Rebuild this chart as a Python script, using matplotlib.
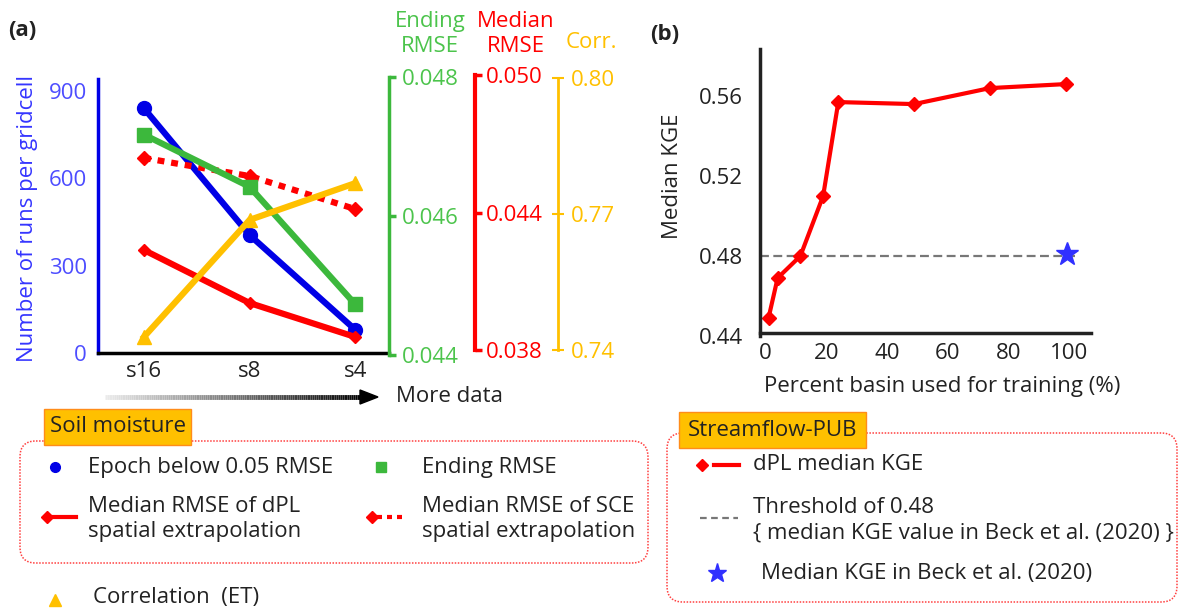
import numpy as np
import matplotlib
matplotlib.use("Agg")
import matplotlib.pyplot as plt
from matplotlib.collections import LineCollection
from matplotlib.patches import FancyBboxPatch, Rectangle, Polygon

plt.rcParams["font.family"] = ["Open Sans", "DejaVu Sans"]
plt.rcParams["font.size"] = 16

# panel (a): soil moisture vs training density
cats = ["s16", "s8", "s4"]
epoch_runs = [840, 405, 80]
ending_rmse = [0.04717, 0.04642, 0.04473]
median_rmse_dpl = [0.04236, 0.04005, 0.03857]
median_rmse_sce = [0.04638, 0.04559, 0.04415]
corr_et = [0.7429, 0.7687, 0.7768]

# panel (b): streamflow PUB
pct_basin = [1, 4, 11.5, 19, 24, 49, 74, 99]
kge_dpl = [0.449, 0.469, 0.480, 0.510, 0.557, 0.556, 0.564, 0.566]
beck_pct = 99.5
beck_kge = 0.481
threshold = 0.48

BLUE, BLUE_TXT = "#0000e6", "#4d4dff"
GREEN, GREEN_TXT = "#3cb83c", "#4cc44c"
RED = "#ff0000"
GOLD = "#ffc000"
INK = "#222222"

W, H = 1179, 608
fig = plt.figure(figsize=(W / 100, H / 100), dpi=100)


def fbox(x0, y0, x1, y1):
    # pixel box (top-left origin) -> figure fraction rect
    return [x0 / W, 1 - y1 / H, (x1 - x0) / W, (y1 - y0) / H]


def bare(a):
    a.patch.set_visible(False)
    for s in a.spines.values():
        s.set_visible(False)
    a.set_xticks([])


xs = np.arange(len(cats))
xl = (-0.436, 2.32)

# ---- (a) main axis: epochs
ax = fig.add_axes(fbox(98, 79, 389, 353))
ax.patch.set_visible(False)
ax.set_xlim(xl)
ax.set_ylim(0, 941)
ax.spines[["top", "right"]].set_visible(False)
ax.spines["left"].set_color(BLUE)
ax.spines["left"].set_linewidth(2.5)
ax.spines["bottom"].set_color("black")
ax.spines["bottom"].set_linewidth(2.5)
ax.set_xticks(xs, cats, color=INK)
ax.set_yticks([0, 300, 600, 900])
ax.tick_params(axis="y", length=0, pad=8, labelcolor=BLUE_TXT)
ax.tick_params(axis="x", length=0, pad=6)
ax.set_ylabel("Number of runs per gridcell", color="#3535ff")
ax.yaxis.set_label_coords(-0.205, 0.49)
ax.plot(xs, epoch_runs, color=BLUE, lw=4.5, marker="o", ms=10, zorder=3)

# red: median RMSE
axr = fig.add_axes(fbox(98, 75, 389, 350))
bare(axr)
axr.set_xlim(xl)
axr.set_ylim(0.038, 0.050)
axr.yaxis.tick_right()
axr.spines["right"].set_visible(True)
axr.spines["right"].set_position(("axes", (475 - 98) / 291))
axr.spines["right"].set_color(RED)
axr.spines["right"].set_linewidth(3)
axr.set_yticks([0.038, 0.044, 0.050], ["0.038", "0.044", "0.050"])
axr.tick_params(axis="y", colors=RED, length=5, width=2.5, pad=3)
axr.plot(xs, median_rmse_dpl, color=RED, lw=4.5, marker="D", ms=6)
axr.plot(xs, median_rmse_sce, color=RED, lw=4.5, ls=(0, (1.1, 1.1)),
         marker="D", ms=7)

# green: ending RMSE
axg = fig.add_axes(fbox(98, 77, 389, 355))
bare(axg)
axg.set_xlim(xl)
axg.set_ylim(0.044, 0.048)
axg.yaxis.tick_right()
axg.spines["right"].set_visible(True)
axg.spines["right"].set_color(GREEN)
axg.spines["right"].set_linewidth(2.5)
axg.set_yticks([0.044, 0.046, 0.048], ["0.044", "0.046", "0.048"])
axg.tick_params(axis="y", colors=GREEN, labelcolor=GREEN_TXT, length=5, width=2.5, pad=4)
axg.plot(xs, ending_rmse, color=GREEN, lw=4.5, marker="s", ms=10)

# gold: correlation
axy = fig.add_axes(fbox(98, 78, 389, 350))
bare(axy)
axy.set_xlim(xl)
axy.set_ylim(0.74, 0.80)
axy.yaxis.tick_right()
axy.spines["right"].set_visible(True)
axy.spines["right"].set_position(("axes", (558 - 98) / 291))
axy.spines["right"].set_color(GOLD)
axy.spines["right"].set_linewidth(2)
axy.set_yticks([0.74, 0.77, 0.80], ["0.74", "0.77", "0.80"])
axy.tick_params(axis="y", colors=GOLD, length=8, width=1.5, direction="inout", pad=5)
axy.plot(xs, corr_et, color=GOLD, lw=4.5, marker="^", ms=10)

# ---- (b) streamflow
axb = fig.add_axes(fbox(760, 49.3, 1091, 336))
axb.patch.set_visible(False)
axb.set_xlim(-1.81, 107.3)
axb.set_ylim(0.44, 0.5834)
axb.spines[["top", "right"]].set_visible(False)
for s in ("left", "bottom"):
    axb.spines[s].set_linewidth(2.5)
    axb.spines[s].set_color(INK)
axb.spines["bottom"].set_position(("data", 0.4415))
axb.set_xticks([0, 20, 40, 60, 80, 100])
axb.set_yticks([0.44, 0.48, 0.52, 0.56], ["0.44", "0.48", "0.52", "0.56"])
axb.tick_params(length=0, labelcolor=INK)
axb.tick_params(axis="y", pad=12)
axb.tick_params(axis="x", pad=7)
axb.set_ylabel("Median KGE", color=INK)
axb.yaxis.set_label_coords(-0.232, 0.556)
axb.text(0.551, -0.177, "Percent basin used for training (%)", transform=axb.transAxes,
         ha="center", va="center", color=INK)
axb.hlines(threshold, axb.get_xlim()[0], max(pct_basin) + 3, colors="#777777",
           lw=1.6, linestyles=(0, (4, 2)))
axb.plot(pct_basin, kge_dpl, color=RED, lw=3, marker="D", ms=7)
axb.plot([beck_pct], [beck_kge], ls="none", marker="*", ms=17, color="#3030ff")

# ---- overlay in pixel coordinates for annotations / legends
ov = fig.add_axes([0, 0, 1, 1])
ov.set_xlim(0, W)
ov.set_ylim(H, 0)
ov.axis("off")
ov.patch.set_visible(False)

ov.text(8, 31, "(a)", fontweight="bold", va="center", color=INK)
ov.text(650, 35, "(b)", fontweight="bold", va="center", color=INK)
ov.text(430, 34, "Ending\nRMSE", color=GREEN_TXT, ha="center", va="center", linespacing=1.25)
ov.text(516, 34, "Median\nRMSE", color=RED, ha="center", va="center", linespacing=1.25)
ov.text(591, 42, "Corr.", color=GOLD, ha="center", va="center")

# gradient arrow "More data"
ax_pts = np.linspace(105, 364, 120)
segs = [[(ax_pts[i], 397), (ax_pts[i + 1], 397)] for i in range(len(ax_pts) - 1)]
shade = np.linspace(0.92, 0.0, len(segs))
ov.add_collection(LineCollection(segs, colors=[(g, g, g) for g in shade], linewidths=3.5))
ov.add_patch(Polygon([(360, 390), (378, 397), (360, 404)], closed=True, color="black"))
ov.text(396, 397, "More data", va="center", color=INK)


def group_box(x0, y0, x1, y1, tag, tx0, ty0, tx1, ty1):
    ov.add_patch(FancyBboxPatch((x0, y0), x1 - x0, y1 - y0,
                                boxstyle="round,pad=0,rounding_size=16",
                                fill=False, ec="#ff4040", lw=1.1, ls=(0, (1, 1))))
    ov.add_patch(Rectangle((tx0, ty0), tx1 - tx0, ty1 - ty0, fc=GOLD, ec="#ff8c1a", lw=1))
    ov.text((tx0 + tx1) / 2, (ty0 + ty1) / 2, tag, ha="center", va="center", color=INK)


group_box(20, 441, 648, 563, "Soil moisture", 44, 409, 191, 445)
ov.plot([55], [467], marker="o", ms=7, color=BLUE, ls="none")
ov.text(88, 467, "Epoch below 0.05 RMSE", va="center", color=INK)
ov.plot([381], [467], marker="s", ms=7, color=GREEN, ls="none")
ov.text(422, 467, "Ending RMSE", va="center", color=INK)
ov.plot([47, 76], [517, 517], color=RED, lw=3)
ov.plot([47], [517], marker="D", ms=6, color=RED)
ov.text(88, 519, "Median RMSE of dPL\nspatial extrapolation", va="center", color=INK,
        linespacing=1.3)
ov.plot([377, 404], [517, 517], color=RED, lw=3, ls=(0, (1.2, 1.2)))
ov.plot([372], [517], marker="D", ms=6, color=RED)
ov.text(422, 519, "Median RMSE of SCE\nspatial extrapolation", va="center", color=INK,
        linespacing=1.3)
ov.plot([55], [600], marker="^", ms=8, color=GOLD, ls="none")
ov.text(93, 598, "Correlation  (ET)", va="center", color=INK)

group_box(667, 433, 1177, 602, "Streamflow-PUB", 679, 412, 866, 448)
ov.plot([714, 739], [465, 465], color=RED, lw=3)
ov.plot([702], [465], marker="D", ms=6, color=RED)
ov.text(753, 465, "dPL median KGE", va="center", color=INK)
ov.plot([700, 738], [518, 518], color="#777777", lw=1.6, ls=(0, (3, 2)))
ov.text(753, 520, "Threshold of 0.48\n{ median KGE value in Beck et al. (2020) }",
        va="center", color=INK, linespacing=1.3)
ov.plot([717], [573], marker="*", ms=14, color="#3030ff", ls="none")
ov.text(761, 573, "Median KGE in Beck et al. (2020)", va="center", color=INK)

fig.savefig("out.png", dpi=100)
